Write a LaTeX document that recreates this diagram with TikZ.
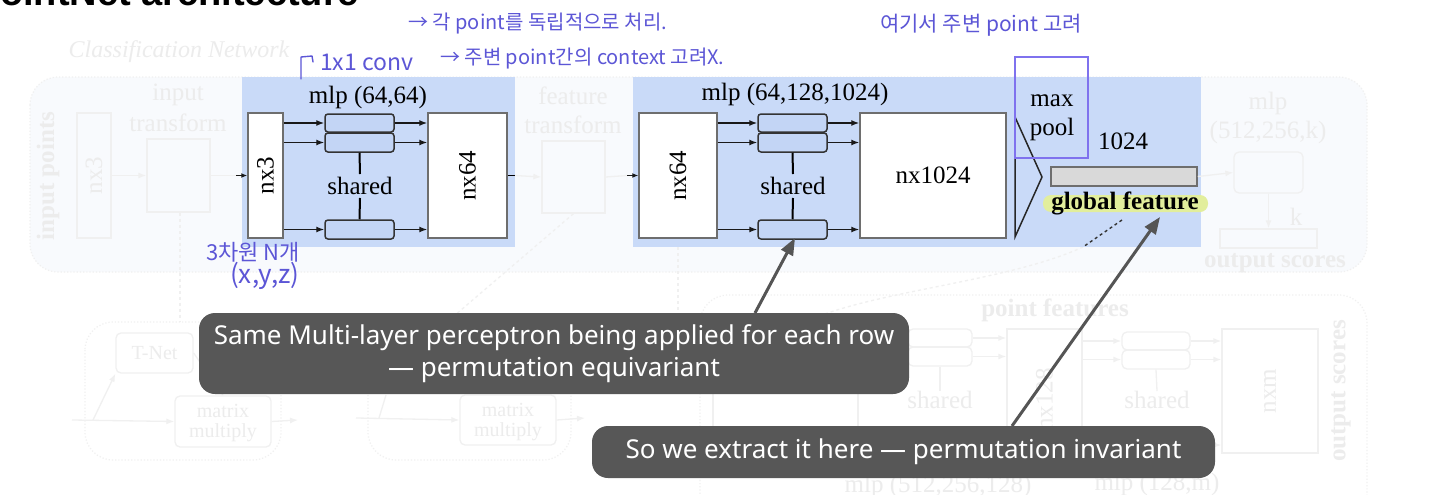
\documentclass[tikz,border=0pt]{standalone}
\usepackage{fontspec}
\setmainfont{Liberation Serif}
\newfontfamily\cjkfont{Noto Sans CJK KR}
\newfontfamily\callfont{Noto Sans}
\newfontfamily\titlefont{Liberation Sans}
\usetikzlibrary{arrows.meta}
\newcommand{\fsz}[2]{\fontsize{#1}{#2}\selectfont}
\definecolor{bluebg}{HTML}{C9DAF8}
\definecolor{smallfill}{HTML}{C3D5F5}
\definecolor{boxedge}{HTML}{6E6E6E}
\definecolor{hand}{RGB}{92,86,214}
\definecolor{purp}{HTML}{7F72EE}
\definecolor{callbg}{HTML}{575757}
\definecolor{callarr}{HTML}{555555}
\definecolor{faintline}{HTML}{F0F0F0}
\definecolor{fainttext}{HTML}{ECECEC}
\definecolor{hilite}{HTML}{E2EE9C}
\definecolor{gfill}{HTML}{D9D9D9}
\definecolor{regionfill}{HTML}{F8FAFD}
\begin{document}
\begin{tikzpicture}[x=1pt,y=-1pt,
  wbox/.style={draw=boxedge, fill=white, line width=1.5pt, inner sep=0pt},
  sbox/.style={draw=black!80, fill=smallfill, line width=1.5pt, rounded corners=3pt, minimum width=69pt, inner sep=0pt},
  arr/.style={-{Latex[length=8pt,width=6pt]}, line width=1.4pt, draw=black!90},
  lbl/.style={font=\fsz{25}{28}, inner sep=0pt},
  fbox/.style={draw=faintline, line width=1.3pt, inner sep=0pt},
  frbox/.style={draw=faintline, line width=1.3pt, inner sep=0pt, rounded corners=5pt},
  ftext/.style={text=fainttext, font=\fsz{25}{28}, inner sep=0pt},
  fsmall/.style={text=fainttext, font=\fsz{20}{22}, inner sep=0pt},
  farr/.style={-{Latex[length=8pt,width=6pt]}, draw=faintline, line width=1.3pt},
  fline/.style={draw=faintline, line width=1.3pt},
  fdash/.style={draw=faintline, line width=1.3pt, dashed},
  fregion/.style={draw=faintline, line width=1.2pt, dotted, rounded corners=28pt},
  callout/.style={fill=callbg, text=white, rounded corners=16pt, inner sep=0pt, font=\callfont\fsz{26}{32}, align=center},
  callarrow/.style={-{Triangle[length=17pt,width=13pt]}, draw=callarr, line width=3pt},
  handtext/.style={text=hand, font=\cjkfont\fsz{20}{24}, inner sep=0pt}
]
\useasboundingbox (0,0) rectangle (1440,495);
\fill[white] (0,0) rectangle (1440,495);

% ---------- title (cut off at top, as in the reference) ----------
\node[font=\titlefont\bfseries\fsz{38}{42}, anchor=base west, inner sep=0pt] (title) at (-25.5,6) {PointNet architecture};

% ---------- faint classification network ----------
\draw[fregion, fill=regionfill] (30,77) rectangle (1367,272);
\node[ftext, font=\itshape\fsz{24}{28}] (cn) at (179,52) {Classification Network};
\node[ftext, font=\bfseries\fsz{25}{28}, rotate=90] (ip) at (48,176) {input points};
\node[fbox, minimum width=34pt, minimum height=125pt] (inbox) at (94,175.5) {};
\node[ftext, rotate=90] at (inbox) {nx3};
\node[ftext] (it1) at (178,95) {input};
\node[ftext] (it2) at (178,123) {transform};
\node[fbox, minimum width=63pt, minimum height=73pt] (itbox) at (178.5,175.5) {};
\node[ftext] (ft1) at (573,96) {feature};
\node[ftext] (ft2) at (573,125) {transform};
\node[fbox, minimum width=63pt, minimum height=72pt] (ftbox) at (573.5,177) {};
\draw[farr] (inbox.east) -- (itbox.west);
\coordinate (itdown) at (180,322);
\draw[fdash] (itbox.south -| itdown) -- (itdown);
\coordinate (ftdown) at (447,322);
\draw[fdash] (ftbox.south) -- (ftdown);
\coordinate (nxcdownA) at (678,247);
\coordinate (nxcdownB) at (678,313);
\draw[fdash] (nxcdownA) -- (nxcdownB);

\node[ftext] (mk1) at (1268,103) {mlp};
\node[ftext] (mk2) at (1268,132) {(512,256,k)};
\node[frbox, minimum width=69pt, minimum height=41pt] (mkbox) at (1268.5,172.5) {};
\node[fbox, minimum width=97pt, minimum height=19pt] (outbox) at (1268.5,238.5) {};
\node[ftext] (kk) at (1296,217) {k};
\node[ftext, font=\bfseries\fsz{25}{28}] (os) at (1275,263) {output scores};
\draw[farr] (mkbox.south) -- (outbox.north);

% ---------- faint segmentation network ----------
\draw[fregion] (85,322) rectangle (281,460);
\draw[fregion] (368,322) rectangle (571,460);
\draw[fregion] (700,295) rectangle (1367,560);
\node[frbox, minimum width=77pt, minimum height=40pt] (tnet) at (154.5,353) {};
\node[fsmall] at (tnet) {T-Net};
\node[frbox, minimum width=96pt, minimum height=51pt] (mmA) at (223,421.5) {};
\node[fsmall] at (223,411) {matrix};
\node[fsmall] at (223,433) {multiply};
\coordinate (aIn) at (72,420);
\coordinate (aOut) at (298,420);
\coordinate (aDiag) at (93,420);
\draw[farr] (aIn) -- (mmA.west);
\draw[farr] (mmA.east) -- (aOut);
\draw[farr] (aDiag) -- (tnet.south west);
\draw[fline] (tnet.east) -- (mmA.north);
\node[frbox, minimum width=96pt, minimum height=50pt] (mmB) at (508,420) {};
\node[fsmall] at (508,410) {matrix};
\node[fsmall] at (508,432) {multiply};
\coordinate (bIn) at (356,418);
\coordinate (bOut) at (585,418);
\coordinate (bDiag) at (379,418);
\coordinate (bDiagE) at (386,395);
\draw[farr] (bIn) -- (mmB.west);
\draw[farr] (mmB.east) -- (bOut);
\draw[fline] (bDiag) -- (bDiagE);

\node[fbox, minimum width=145pt, minimum height=142pt] (cat) at (785.5,399) {};
\node[frbox, minimum width=64pt, minimum height=18pt] (p1) at (940,338) {};
\node[frbox, minimum width=64pt, minimum height=19pt] (p2) at (940,356.5) {};
\node[ftext] (psh) at (940,400) {shared};
\draw[fline] (p2.south) -- (psh.north);
\draw[farr] (cat.east |- p1.west) -- (p1.west);
\draw[farr] (cat.east |- p2.west) -- (p2.west);
\node[fbox, minimum width=75pt, minimum height=141pt] (n128) at (1044.5,399.5) {};
\node[ftext, rotate=90] at (n128) {nx128};
\draw[farr] (p1.east) -- (n128.west |- p1.east);
\draw[farr] (p2.east) -- (n128.west |- p2.east);
\node[frbox, minimum width=68pt, minimum height=18pt] (q1) at (1156,341) {};
\node[frbox, minimum width=68pt, minimum height=19pt] (q2) at (1156,359.5) {};
\node[ftext] (qsh) at (1157,400) {shared};
\draw[fline] (q2.south) -- (qsh.north);
\draw[farr] (n128.east |- q1.west) -- (q1.west);
\draw[farr] (n128.east |- q2.west) -- (q2.west);
\node[fbox, minimum width=96pt, minimum height=124pt] (nxm) at (1270,391) {};
\node[ftext, rotate=90] at (nxm) {nxm};
\draw[farr] (q1.east) -- (nxm.west |- q1.east);
\draw[farr] (q2.east) -- (nxm.west |- q2.east);
\coordinate (qlow) at (1190,445);
\draw[farr] (qlow) -- (nxm.west |- qlow);
\node[ftext, font=\bfseries\fsz{25}{28}, rotate=90] (os2) at (1341,391) {output scores};
\node[ftext, font=\bfseries\fsz{25}{28}] (pf) at (1055,310) {point features};
\node[ftext] (m3) at (938,486) {mlp (512,256,128)};
\node[ftext] (m4) at (1157,484) {mlp (128,m)};
\coordinate (gdash1) at (1122,220);
\coordinate (gdash2) at (1083,247);
\coordinate (gdash3) at (790,330);
\draw[fdash] (gdash2) .. controls (1000,285) and (850,292) .. (gdash3);

% ---------- blue block 1 ----------
\fill[bluebg] (242,77) rectangle (515,247);
\node[lbl] (mlpA) at (368,97) {mlp (64,64)};
\node[wbox, minimum width=35pt, minimum height=125pt] (nxA) at (265.5,175.5) {};
\node[lbl, rotate=90] at (nxA) {nx3};
\node[sbox, minimum height=18pt] (r1) at (359.5,123) {};
\node[sbox, minimum height=19pt] (r2) at (359.5,142.5) {};
\node[sbox, minimum height=19pt] (r3) at (359.5,229.5) {};
\node[lbl, inner sep=3pt] (shA) at (360,186) {shared};
\draw[line width=2pt] (r2.south) -- (shA.north);
\draw[line width=2pt] (shA.south) -- (r3.north);
\node[wbox, minimum width=79pt, minimum height=125pt] (nxB) at (467.5,175.5) {};
\node[lbl, rotate=90] at (nxB) {nx64};
\foreach \r in {r1,r2,r3}{
  \draw[arr] (nxA.east |- \r.west) -- (\r.west);
  \draw[arr] (\r.east) -- (nxB.west |- \r.east);
}
\coordinate (blueAin) at (236,175.5);
\coordinate (blueAout) at (515,175.5);
\draw[fline] (itbox.east) -- (blueAin);
\draw[arr, -{Latex[length=6pt,width=5pt]}] (blueAin) -- (nxA.west);
\draw[line width=1.4pt] (nxB.east) -- (blueAout);
\draw[farr] (blueAout) -- (ftbox.west);

% ---------- blue block 2 ----------
\fill[bluebg] (633,77) rectangle (1201,247);
\node[lbl] (mlpB) at (795,94) {mlp (64,128,1024)};
\node[wbox, minimum width=78pt, minimum height=125pt] (nxC) at (678,175.5) {};
\node[lbl, rotate=90] at (nxC) {nx64};
\node[sbox, minimum height=18pt] (s1) at (792.5,123) {};
\node[sbox, minimum height=19pt] (s2) at (792.5,142.5) {};
\node[sbox, minimum height=19pt] (s3) at (792.5,229.5) {};
\node[lbl, inner sep=3pt] (shB) at (793,186) {shared};
\draw[line width=2pt] (s2.south) -- (shB.north);
\draw[line width=2pt] (shB.south) -- (s3.north);
\node[wbox, minimum width=146pt, minimum height=125pt] (nxD) at (933,175.5) {};
\node[lbl] at (nxD) {nx1024};
\foreach \r in {s1,s2,s3}{
  \draw[arr] (nxC.east |- \r.west) -- (\r.west);
  \draw[arr] (\r.east) -- (nxD.west |- \r.east);
}
\coordinate (blueBin) at (627,175.5);
\draw[fline] (ftbox.east) -- (blueBin);
\draw[arr, -{Latex[length=6pt,width=5pt]}] (blueBin) -- (nxC.west);

% max pool
\coordinate (mp1) at (1015,117);
\coordinate (mp2) at (1042,177);
\coordinate (mp3) at (1015,237);
\draw[line width=1.5pt, black!85, line join=miter] (mp1) -- (mp2) -- (mp3) -- cycle;
\node[lbl] (mx) at (1052,101) {max};
\node[lbl] (pl) at (1052,129) {pool};
\node[lbl] (n1024) at (1123,141) {1024};
\node[draw=boxedge, fill=gfill, line width=1.5pt, minimum width=146pt, minimum height=19pt, inner sep=0pt] (gf) at (1124,176.5) {};
\fill[hilite, rounded corners=8pt] (1043,195) rectangle (1208,212);
\node[lbl, font=\bfseries\fsz{25}{28}] (gft) at (1125,203) {global feature};
\draw[dashed, line width=1.4pt, black!80] (gdash1) -- (gdash2);
\draw[farr] (gf.east) -- (mkbox.west);
\draw[purp, line width=1.6pt] (1015,57) rectangle (1088,158);

% ---------- handwritten notes ----------
\node[handtext, anchor=west] (h1) at (408,24) {→ 각 point를 독립적으로 처리.};
\coordinate (br1) at (301,79);
\coordinate (br2) at (301,57);
\coordinate (br3) at (312,56);
\coordinate (br4) at (313,62);
\draw[hand, line width=1.4pt, line cap=round, line join=round] (br1) -- (br2) -- (br3) -- (br4);
\node[handtext, font=\cjkfont\fsz{23}{26}, anchor=west] (h2) at (320,62) {1x1 conv};
\node[handtext, anchor=west] (h3) at (440,59) {→ 주변 point간의 context 고려X.};
\node[handtext, font=\cjkfont\fsz{21}{24}, anchor=west] (h4) at (880,25) {여기서 주변 point 고려};
\node[handtext, font=\cjkfont\fsz{22}{24}, anchor=west] (h5) at (206,252) {3차원 N개};
\node[handtext, font=\cjkfont\fsz{26}{28}, anchor=west] (h6) at (230,276) {(x,y,z)};

% ---------- callouts ----------
\node[callout, minimum width=710pt, minimum height=81pt] (cb1) at (554,353.5)
  {Same Multi-layer perceptron being applied for each row\\— permutation equivariant};
\node[callout, minimum width=623pt, minimum height=52pt] (cb2) at (903.5,452)
  {So we extract it here — permutation invariant};
\coordinate (a1tail) at (755,313);
\coordinate (a2tail) at (1012,426);
\coordinate (gftip) at (1160,217);
\coordinate (s3tip) at (795,238);
\draw[callarrow] (a1tail) -- (s3tip);
\draw[callarrow] (a2tail) -- (gftip);
\end{tikzpicture}
\end{document}
